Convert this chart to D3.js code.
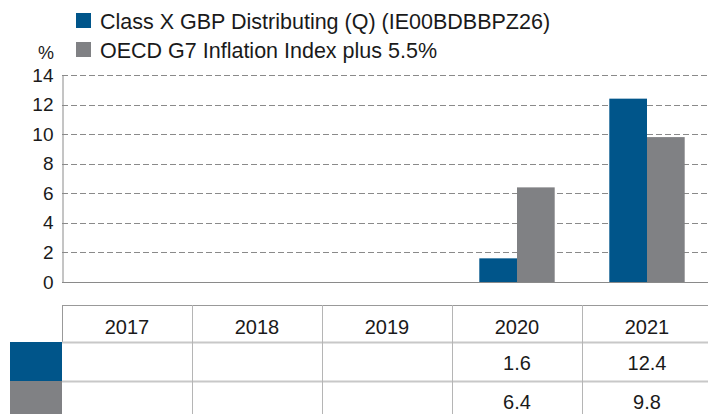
<!DOCTYPE html>
<html>
<head>
<meta charset="utf-8">
<script src="https://cdn.jsdelivr.net/npm/d3@7"></script>
<style>
  body { margin: 0; background: #fff; }
  text { font-family: "Liberation Sans", Arial, sans-serif; fill: #1a1a1a; }
</style>
</head>
<body>
<div id="chart"></div>
<script>
var years = ["2017", "2018", "2019", "2020", "2021"];
var seriesNames = ["Class X GBP Distributing (Q) (IE00BDBBPZ26)", "OECD G7 Inflation Index plus 5.5%"];
var fundValues = [null, null, null, 1.6, 12.4];
var indexValues = [null, null, null, 6.4, 9.8];
var yTicks = [0, 2, 4, 6, 8, 10, 12, 14];
var colors = ["#00558a", "#808184"];

var width = 708, height = 414;
var margin = { top: 75, left: 62, right: -4, bottom: 132 };
var plotBottom = height - margin.bottom;

var svg = d3.select("#chart").append("svg")
  .attr("width", width)
  .attr("height", height);

var xScale = d3.scaleBand()
  .domain(years)
  .range([margin.left, width - margin.right])
  .padding(0);

var xInner = d3.scaleBand()
  .domain([0, 1])
  .range([xScale.bandwidth() * 0.21, xScale.bandwidth() * 0.79])
  .padding(0);

var yScale = d3.scaleLinear()
  .domain([0, 14])
  .range([plotBottom, margin.top]);

// gridlines
svg.append("g")
  .selectAll("line")
  .data(yTicks.filter(function (d) { return d > 0; }))
  .enter().append("line")
  .attr("x1", margin.left)
  .attr("x2", width)
  .attr("y1", function (d) { return Math.round(yScale(d)) + 0.5; })
  .attr("y2", function (d) { return Math.round(yScale(d)) + 0.5; })
  .attr("stroke", "#8a8a8a")
  .attr("stroke-dasharray", "6,3");

// y axis
var yAxis = svg.append("g")
  .attr("transform", "translate(" + (margin.left + 0.5) + ",0)")
  .call(d3.axisLeft(yScale).tickValues(yTicks).tickSize(0).tickPadding(9));
yAxis.select(".domain").attr("stroke", "#8a8a8a");
yAxis.selectAll("text")
  .style("font-size", "19px")
  .style("font-family", "Liberation Sans, Arial, sans-serif")
  .attr("fill", "#1a1a1a");

svg.append("text")
  .attr("x", 46)
  .attr("y", 59)
  .attr("text-anchor", "middle")
  .style("font-size", "18px")
  .text("%");

// bars
var rows = years.map(function (y, i) { return { year: y, vals: [fundValues[i], indexValues[i]] }; });
var groups = svg.append("g").selectAll("g")
  .data(rows)
  .enter().append("g")
  .attr("transform", function (d) { return "translate(" + xScale(d.year) + ",0)"; });

groups.selectAll("rect")
  .data(function (d) { return d.vals.map(function (v, i) { return { i: i, v: v }; }).filter(function (e) { return e.v != null; }); })
  .enter().append("rect")
  .attr("x", function (d) { return xInner(d.i); })
  .attr("width", xInner.bandwidth())
  .attr("y", function (d) { return yScale(d.v); })
  .attr("height", function (d) { return plotBottom - yScale(d.v); })
  .attr("fill", function (d) { return colors[d.i]; });

// baseline
svg.append("line")
  .attr("x1", margin.left).attr("x2", width)
  .attr("y1", plotBottom + 0.5).attr("y2", plotBottom + 0.5)
  .attr("stroke", "#8a8a8a");

// legend
var legend = svg.append("g").selectAll("g")
  .data(seriesNames)
  .enter().append("g")
  .attr("transform", function (d, i) { return "translate(76," + (13 + i * 29) + ")"; });
legend.append("rect")
  .attr("width", 15).attr("height", 15)
  .attr("fill", function (d, i) { return colors[i]; });
legend.append("text")
  .attr("x", 24).attr("y", 15.5)
  .style("font-size", "21.5px")
  .text(function (d) { return d; });

// data table
var tableTop = 305, headH = 37, rowH = 39;
var table = svg.append("g");

table.append("line")
  .attr("x1", margin.left).attr("x2", width)
  .attr("y1", tableTop + 0.5).attr("y2", tableTop + 0.5)
  .attr("stroke", "#999");
table.append("line")
  .attr("x1", margin.left + 0.5).attr("x2", margin.left + 0.5)
  .attr("y1", tableTop).attr("y2", tableTop + headH)
  .attr("stroke", "#999");

[0, 1].forEach(function (i) {
  table.append("rect")
    .attr("x", 10).attr("width", margin.left - 10)
    .attr("y", tableTop + headH + i * rowH)
    .attr("height", rowH)
    .attr("fill", colors[i]);
  table.append("line")
    .attr("x1", margin.left).attr("x2", width)
    .attr("y1", tableTop + headH + i * rowH + 0.5)
    .attr("y2", tableTop + headH + i * rowH + 0.5)
    .attr("stroke", "#c8c8c8").attr("stroke-width", 2);
});

table.selectAll(".vline")
  .data(years.slice(1))
  .enter().append("line")
  .attr("class", "vline")
  .attr("x1", function (d) { return xScale(d) + 0.5; })
  .attr("x2", function (d) { return xScale(d) + 0.5; })
  .attr("y1", tableTop).attr("y2", height)
  .attr("stroke", "#b5b5b5");

table.selectAll(".head")
  .data(years)
  .enter().append("text")
  .attr("class", "head")
  .attr("x", function (d) { return xScale(d) + xScale.bandwidth() / 2; })
  .attr("y", tableTop + 29)
  .attr("text-anchor", "middle")
  .style("font-size", "20px")
  .text(function (d) { return d; });

[fundValues, indexValues].forEach(function (vals, i) {
  table.selectAll(".val" + i)
    .data(years)
    .enter().append("text")
    .attr("class", "val" + i)
    .attr("x", function (d) { return xScale(d) + xScale.bandwidth() / 2; })
    .attr("y", tableTop + headH + i * rowH + 28)
    .attr("text-anchor", "middle")
    .style("font-size", "20px")
    .text(function (d, j) { return vals[j] == null ? "" : d3.format(".1f")(vals[j]); });
});
</script>
</body>
</html>
